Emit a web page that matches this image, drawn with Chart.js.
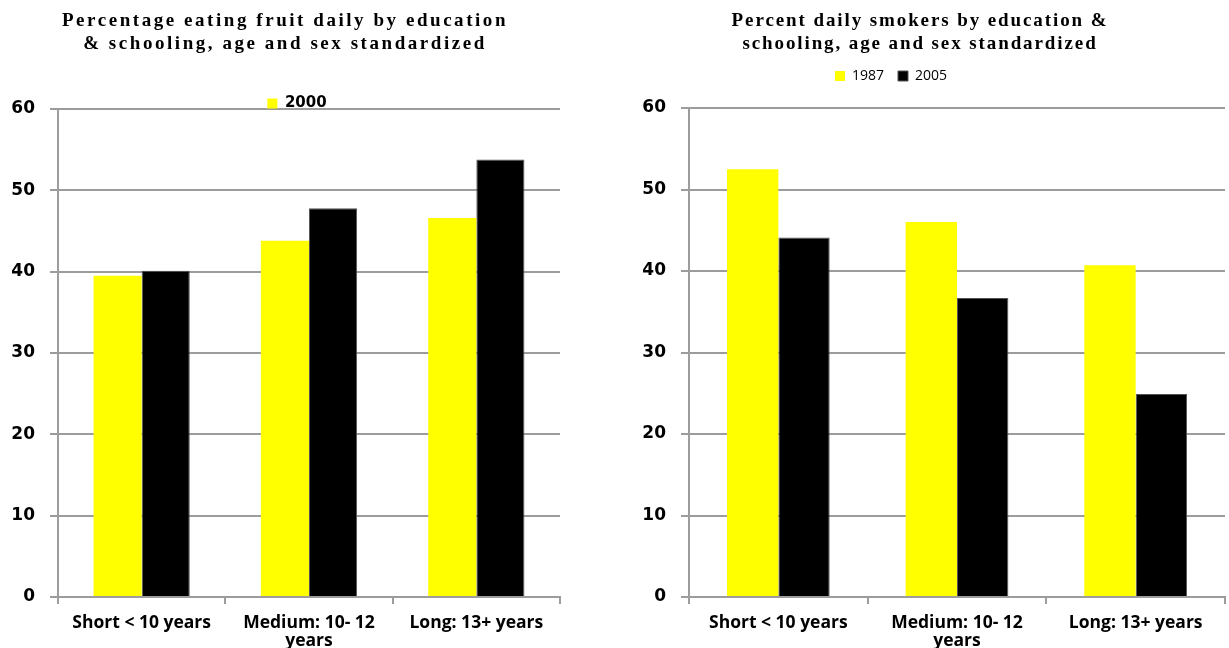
<!DOCTYPE html>
<html>
<head>
<meta charset="utf-8">
<script src="https://cdn.jsdelivr.net/npm/chart.js@4.4.1/dist/chart.umd.min.js"></script>
<style>
  html, body { margin: 0; padding: 0; background: #ffffff; }
  body { width: 1229px; height: 648px; position: relative; overflow: hidden; }
  .panel { position: absolute; top: 0; height: 648px; }
  #fruitPanel { left: 0; width: 570px; }
  #smokePanel { left: 611px; width: 618px; }
</style>
</head>
<body>
<div class="panel" id="fruitPanel"><canvas id="fruitChart"></canvas></div>
<div class="panel" id="smokePanel"><canvas id="smokeChart"></canvas></div>
<script>
// Education groups shared by both panels
const categories = ['Short < 10 years', 'Medium: 10- 12 years', 'Long: 13+ years'];

// Percentage eating fruit daily
const fruitTitle = ['Percentage eating fruit daily by education', '& schooling, age and sex standardized'];
const fruitSeriesNames = ['2000', ''];
const fruit2000 = [39.5, 43.8, 46.6];
const fruitOther = [40.1, 47.8, 53.8];

// Percent daily smokers
const smokeTitle = ['Percent daily smokers by education &', 'schooling, age and sex standardized'];
const smokeSeriesNames = ['1987', '2005'];
const smoke1987 = [52.5, 46.0, 40.7];
const smoke2005 = [44.1, 36.7, 24.9];

// Value axis
const yMin = 0;
const yMax = 60;
const yStep = 10;

const YELLOW = '#FFFF00';
const BLACK = '#000000';
const GRID = '#9c9c9c';
const LABEL_FONT = { family: "'Open Sans', sans-serif", size: 17.5, weight: 'bold', lineHeight: 18 / 17.5 };

// Greedy word wrap of a category label to a pixel width
function wrapLabel(text, maxWidth) {
  const ctx = document.createElement('canvas').getContext('2d');
  ctx.font = `bold ${LABEL_FONT.size}px ${LABEL_FONT.family}`;
  const words = text.split(' ');
  const lines = [];
  let line = '';
  for (const w of words) {
    const test = line ? line + ' ' + w : w;
    if (line && ctx.measureText(test).width > maxWidth) {
      lines.push(line);
      line = w;
    } else {
      line = test;
    }
  }
  if (line) lines.push(line);
  return lines;
}

// Moves the legend block after layout (legend sits off-centre from the title)
const legendNudge = {
  id: 'legendNudge',
  afterLayout(chart, args, opts) {
    const lg = chart.legend;
    if (!lg) return;
    const dx = opts.dx || 0, dy = opts.dy || 0;
    lg.left += dx; lg.right += dx;
    lg.top += dy; lg.bottom += dy;
  }
};

// Draws the title with extra tracking between letters
const titleTracking = {
  id: 'titleTracking',
  beforeDraw(chart, args, opts) {
    const tb = chart.titleBlock;
    if (!tb || tb._tracked) return;
    const base = tb.draw.bind(tb);
    tb.draw = function (area) {
      const ctx = chart.ctx;
      const prev = ctx.letterSpacing;
      ctx.letterSpacing = (opts.spacing || 0) + 'px';
      base(area);
      ctx.letterSpacing = prev || '0px';
    };
    tb._tracked = true;
  }
};

function makeChart(canvasId, cfg) {
  return new Chart(document.getElementById(canvasId), {
    type: 'bar',
    data: {
      labels: categories.map(c => wrapLabel(c, cfg.wrapWidth)),
      datasets: [
        { label: cfg.names[0], data: cfg.a, backgroundColor: YELLOW, borderWidth: 0 },
        { label: cfg.names[1], data: cfg.b, backgroundColor: BLACK, borderColor: '#555555', borderWidth: 1 }
      ]
    },
    plugins: [legendNudge, titleTracking],
    options: {
      responsive: true,
      maintainAspectRatio: false,
      animation: false,
      datasets: { bar: { categoryPercentage: 0.575, barPercentage: 1.0 } },
      layout: { padding: { left: cfg.padLeft, right: cfg.padRight, top: 0, bottom: 0 } },
      plugins: {
        tooltip: { enabled: false },
        title: {
          display: true,
          text: cfg.title,
          color: '#000000',
          font: { family: "'Liberation Serif', 'Times New Roman', serif", size: 19, weight: 'bold', lineHeight: 23 / 19 },
          padding: { top: 10, bottom: cfg.titleGap }
        },
        titleTracking: { spacing: cfg.tracking },
        legend: {
          display: true,
          position: 'top',
          labels: {
            color: '#000000',
            boxWidth: 10,
            boxHeight: 10,
            padding: cfg.legendPad,
            font: cfg.legendFont,
            filter: item => item.text !== ''
          }
        },
        legendNudge: { dx: cfg.legendDx, dy: cfg.legendDy }
      },
      scales: {
        x: {
          offset: true,
          grid: { display: true, drawOnChartArea: false, drawTicks: true, tickLength: 7, color: GRID, lineWidth: 2, offset: true },
          border: { display: true, color: GRID, width: 2 },
          ticks: { color: '#000000', font: LABEL_FONT, padding: 10, maxRotation: 0, autoSkip: false },
          afterFit(scale) { scale.height = 51; }
        },
        y: {
          min: yMin,
          max: yMax,
          ticks: { stepSize: yStep, color: '#000000', padding: 15, font: { family: "'DejaVu Sans', sans-serif", size: 17, weight: 'bold' } },
          grid: { color: GRID, lineWidth: 2, tickLength: 8, drawTicks: true },
          border: { display: true, color: GRID, width: 2 },
          afterFit(scale) { scale.width = cfg.axisWidth; }
        }
      }
    }
  });
}

makeChart('fruitChart', {
  title: fruitTitle,
  names: fruitSeriesNames,
  a: fruit2000,
  b: fruitOther,
  padLeft: 10,
  padRight: 10,
  axisWidth: 48,
  wrapWidth: 150,
  tracking: 2.55,
  titleGap: 22,
  legendPad: 6,
  legendFont: { family: "'DejaVu Sans', sans-serif", size: 15, weight: 'bold' },
  legendDx: 12,
  legendDy: 12
});

makeChart('smokeChart', {
  title: smokeTitle,
  names: smokeSeriesNames,
  a: smoke1987,
  b: smoke2005,
  padLeft: 4,
  padRight: 4,
  axisWidth: 74,
  wrapWidth: 160,
  tracking: 1.9,
  titleGap: 14,
  legendPad: 14,
  legendFont: { family: "'Open Sans', sans-serif", size: 14, weight: 'normal' },
  legendDx: -29,
  legendDy: -15
});
</script>
</body>
</html>
